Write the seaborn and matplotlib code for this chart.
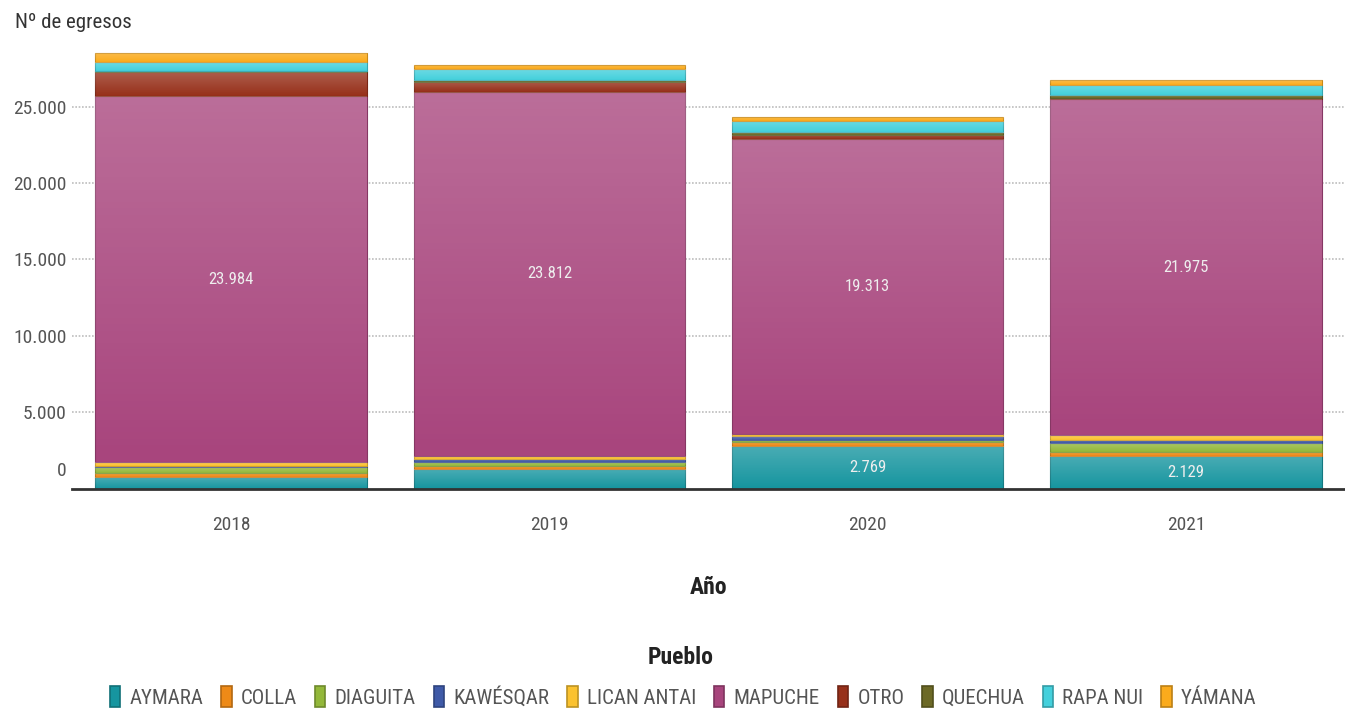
import numpy as np
import pandas as pd
import matplotlib
matplotlib.use("Agg")
import matplotlib.pyplot as plt
from matplotlib import font_manager
from matplotlib.patches import Patch
import matplotlib.colors as mcolors
import matplotlib.transforms as mtransforms
import seaborn as sns

# ---------------- data ----------------
years = ["2018", "2019", "2020", "2021"]
pueblos = ["AYMARA", "COLLA", "DIAGUITA", "KAWÉSQAR", "LICAN ANTAI",
           "MAPUCHE", "OTRO", "QUECHUA", "RAPA NUI", "YÁMANA"]
aymara = [760, 1260, 2769, 2129]
colla = [285, 240, 300, 280]
diaguita = [330, 220, 120, 560]
kawesqar = [110, 200, 230, 230]
lican_antai = [230, 240, 150, 300]
mapuche = [23984, 23812, 19313, 21975]
otro = [1570, 655, 262, 90]
quechua = [90, 130, 175, 175]
rapa_nui = [570, 700, 740, 700]
yamana = [590, 285, 285, 305]
series = [aymara, colla, diaguita, kawesqar, lican_antai,
          mapuche, otro, quechua, rapa_nui, yamana]
colors = ["#16959f", "#ee8a17", "#93b83a", "#3f5aa8", "#fbc22f",
          "#a8457d", "#97301a", "#6c6926", "#44d0dc", "#fbab1c"]
y_ticks = [0, 5000, 10000, 15000, 20000, 25000]

# ---------------- fonts ----------------
sns.set_theme(style="white")
cond = None
for f in font_manager.fontManager.ttflist:
    st = str(f.stretch).lower()
    fn = f.fname.lower()
    if ("condensed" in st or "narrow" in fn or "condensed" in fn) and "extra" not in fn \
            and "ultra" not in fn and "semi" not in fn and "semi" not in st:
        if cond is None or f.name in ("DejaVu Sans", "Liberation Sans Narrow", "Roboto Condensed"):
            cond = f
if cond is not None:
    plt.rcParams["font.family"] = [cond.name, "DejaVu Sans"]
    plt.rcParams["font.stretch"] = cond.stretch
    scale = 1.0
else:
    plt.rcParams["font.family"] = ["DejaVu Sans"]
    scale = 0.85

fig = plt.figure(figsize=(13.45, 7.21), dpi=100)
ax = fig.add_axes([72 / 1345, 1 - 488.5 / 721, 1 - 72 / 1345, 443 / 721])

bottom = np.zeros(len(years))
for name, vals, col in zip(pueblos, series, colors):
    edge = tuple(np.array(mcolors.to_rgb(col)) * 0.8)
    sns.barplot(x=years, y=vals, bottom=bottom, color=col, saturation=1,
                width=0.853, edgecolor=edge, linewidth=0.8, ax=ax, zorder=2)
    bottom = bottom + np.array(vals)

# gradient overlay (lighter at top of each segment)
grad = np.linspace(0, 1, 64).reshape(-1, 1)
cmap = mcolors.LinearSegmentedColormap.from_list(
    "wg", [(1, 1, 1, 0.0), (1, 1, 1, 0.22)])
for p in list(ax.patches):
    x0, y0 = p.get_x(), p.get_y()
    w, h = p.get_width(), p.get_height()
    if h <= 0:
        continue
    im = ax.imshow(grad, extent=[x0, x0 + w, y0, y0 + h], origin="lower",
                   aspect="auto", cmap=cmap, vmin=0, vmax=1, zorder=3,
                   interpolation="bilinear")
    im.set_clip_path(p)

ax.set_xlim(-0.5, 3.5)
ax.set_ylim(0, 29000)

# grid & spines
ax.set_yticks(y_ticks)
ax.set_yticklabels([""] + [f"{v:,}".replace(",", ".") for v in y_ticks[1:]])
for v in y_ticks[1:]:
    ax.axhline(v, color="#bdbdbd", lw=1.2, ls=(0, (1, 1)), zorder=1)
for s in ["left", "right", "top"]:
    ax.spines[s].set_visible(False)
ax.spines["bottom"].set_color("#333333")
ax.spines["bottom"].set_linewidth(2)
ax.spines["bottom"].set_zorder(5)
ax.tick_params(axis="y", length=0, labelsize=14 * scale, labelcolor="#555555", pad=4)
ax.tick_params(axis="x", length=10, width=1.2, color="#333333",
               labelsize=14 * scale, labelcolor="#555555", pad=10, direction="out")
ax.set_xlabel("Año", fontsize=17 * scale, fontweight="bold", color="#222222", labelpad=30)
ax.set_ylabel("")

# the "0" label sits slightly above the baseline in the reference
off = mtransforms.offset_copy(ax.get_yaxis_transform(), fig=fig, x=-5, y=17, units="dots")
ax.text(0, 0, "0", transform=off, ha="right", va="center",
        fontsize=14 * scale, color="#555555")

# data labels
lab_style = dict(ha="center", va="center", color="#eeeeee", fontsize=12 * scale, zorder=6)
mp_bottom = np.sum(series[:5], axis=0)
for i, v in enumerate(mapuche):
    ax.text(i, mp_bottom[i] + v / 2, f"{v:,}".replace(",", "."), **lab_style)
for i in [2, 3]:
    ax.text(i, aymara[i] / 2, f"{aymara[i]:,}".replace(",", "."), **lab_style)

fig.text(15 / 1345, 1 - 22 / 721, "Nº de egresos", fontsize=15 * scale,
         color="#333333", ha="left", va="center")

fig.text(681 / 1345, 1 - 658 / 721, "Pueblo", fontsize=17 * scale, fontweight="bold",
         color="#222222", ha="center", va="center")

handles = []
for name, col in zip(pueblos, colors):
    edge = tuple(np.array(mcolors.to_rgb(col)) * 0.75)
    handles.append(Patch(facecolor=col, edgecolor=edge, linewidth=1.2, label=name))
leg = fig.legend(handles=handles, loc="center", bbox_to_anchor=(0.508, 1 - 697 / 721),
                 ncol=10, frameon=False, fontsize=15 * scale if cond is not None else 12,
                 handlelength=0.5, handleheight=1.15, handletextpad=0.45,
                 columnspacing=0.85, labelcolor="#555555", borderaxespad=0, borderpad=0)

fig.savefig("out.png", dpi=100)
